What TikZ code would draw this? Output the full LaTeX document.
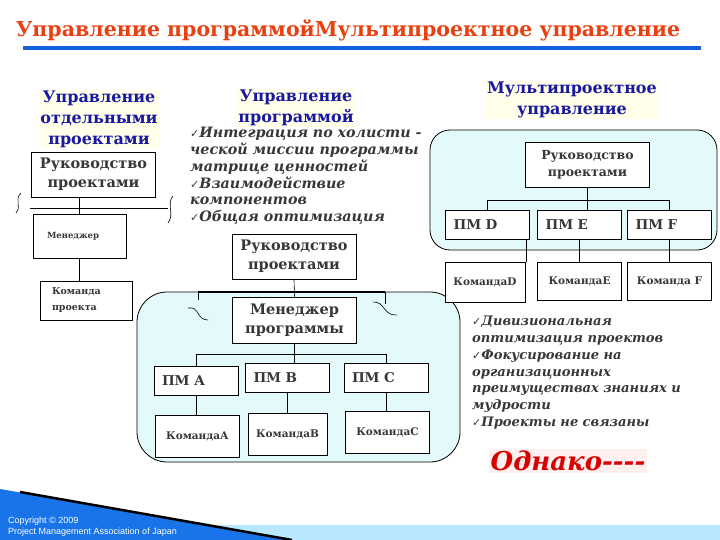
\documentclass[tikz,border=0pt]{standalone}
\usepackage{fontspec}
\setmainfont{DejaVu Serif}
\newfontfamily\checkfont{DejaVu Sans}
\newfontfamily\copyfont{Liberation Sans}
\usetikzlibrary{positioning}

\definecolor{titlered}{RGB}{232,64,16}
\definecolor{headblue}{RGB}{24,24,160}
\definecolor{lineblue}{RGB}{20,96,224}
\definecolor{panel}{RGB}{228,250,250}
\definecolor{boxtext}{RGB}{55,55,55}
\definecolor{swoop}{RGB}{24,116,232}
\definecolor{band}{RGB}{184,232,255}
\definecolor{paleyellow}{RGB}{255,255,234}
\definecolor{palepink}{RGB}{255,240,240}

\newcommand{\chk}{{\checkfont\mdseries\upshape\fontsize{11}{11}\selectfont ✓}}

\tikzset{
  head/.style={font=\fontsize{16}{21}\selectfont\bfseries, text=headblue, align=center, fill=paleyellow, inner sep=1pt},
  box/.style={draw, line width=0.9pt, fill=white, text=boxtext, inner sep=0pt},
  leadbox/.style={box, minimum width=124, minimum height=45, align=center, font=\fontsize{14.5}{19}\selectfont\bfseries},
  pmbox/.style={box, minimum width=84, minimum height=29, text width=68, align=left, font=\fontsize{13.5}{15}\selectfont\bfseries},
  teambox/.style={box, minimum width=84, minimum height=42, align=center, font=\fontsize{10.5}{12}\selectfont\bfseries},
  bullets/.style={anchor=north west, inner sep=0pt, text=boxtext, align=left, font=\fontsize{13.5}{16.8}\selectfont\bfseries\itshape},
  breakline/.style={line width=0.6pt}
}

\begin{document}
\begin{tikzpicture}[x=1pt,y=-1pt]
\useasboundingbox (0,0) rectangle (720,540);

% title
\node[inner sep=0pt, font=\fontsize{20.5}{21}\selectfont\bfseries, text=titlered] (title) at (348,30) {Управление программойМультипроектное управление};
\draw[lineblue, line width=4pt] (23,48) -- (701,48);

% headings
\node[head] (head1) at (99,119) {Управление\\отдельными\\проектами};
\node[head] (head2) at (296,108) {Управление\\программой};
\node[head] (head3) at (572,100) {Мультипроектное\\управление};

% left: single projects
\node[leadbox] (lead1) at (93.5,174.5) {Руководство\\проектами};
\node[box, minimum width=93, minimum height=44, text width=65, align=left, font=\fontsize{8.5}{11}\selectfont\bfseries] (man0) at (79.5,236) {Менеджер};
\node[box, minimum width=92, minimum height=39, text width=68, align=left, font=\fontsize{9.5}{16}\selectfont\bfseries] (team0) at (86,300.5) {Команда\\проекта};

\draw[breakline] (30,208) -- (168,208);
\draw[breakline] (21,193) .. controls (14,200) and (22,206) .. (16,213);
\draw[breakline] (173,196) .. controls (166,204) and (175,214) .. (168,223);
\draw[breakline] (man0.north) -- (man0.north |- lead1.south);
\draw[breakline] (man0.south) -- (man0.south |- team0.north);

% middle: programme
\node[bullets, text width=250, font=\fontsize{14.3}{16.8}\selectfont\bfseries\itshape] (bul1) at (190,127) {\chk Интеграция по холисти -\\ческой миссии программы\\матрице ценностей\\\chk Взаимодействие\\компонентов\\\chk Общая оптимизация};

\draw[fill=panel, line width=0.8pt, rounded corners=30] (137,292) rectangle (460,462);
\coordinate (brL) at (198,292);
\coordinate (brR) at (385,292);
\draw[line width=2pt] (brL) -- (brR);
\draw[breakline] (brL) -- ++(0,8);
\draw[breakline] (brR) -- ++(0,12);
\draw[breakline] (188,308) .. controls (200,306) and (196,320) .. (208,320);
\draw[breakline] (373,302) .. controls (385,301) and (383,316) .. (397,315);

\node[leadbox] (lead2) at (294,256.5) {Руководство\\проектами};
\node[leadbox, minimum height=46] (mgr) at (294.5,320) {Менеджер\\программы};
\draw[breakline] (lead2.south) -- (mgr.north);

\node[pmbox] (pmA) at (196,381) {ПМ А};
\node[pmbox] (pmB) at (287.5,378) {ПМ В};
\node[pmbox] (pmC) at (386,378) {ПМ С};
\node[teambox] (teamA) at (197.5,436.5) {КомандаА};
\node[teambox, minimum width=79] (teamB) at (287.5,434) {КомандаВ};
\node[teambox] (teamC) at (387.5,432) {КомандаС};

\draw[breakline] (pmA.north) -- ++(0,-12) -| (pmC.north);
\draw[breakline] (mgr.south) -- (mgr.south |- pmB.north);
\foreach \p/\t in {pmA/teamA, pmB/teamB, pmC/teamC}
  \draw[breakline] (\p.south) -- (\p.south |- \t.north);

% right: multi-project
\draw[fill=panel, line width=0.8pt, rounded corners=20] (430,130) rectangle (717,250);
\node[leadbox, font=\fontsize{12.5}{17}\selectfont\bfseries] (lead3) at (587.5,165) {Руководство\\проектами};
\node[pmbox] (pmD) at (487.5,225) {ПМ D};
\node[pmbox] (pmE) at (579.5,225) {ПМ E};
\node[pmbox] (pmF) at (669.5,225) {ПМ F};
\node[teambox, minimum width=80, minimum height=40] (teamD) at (485,282) {КомандаD};
\node[teambox, minimum height=38] (teamE) at (579.5,281) {КомандаE};
\node[teambox, minimum height=38] (teamF) at (669.5,281) {Команда F};

\draw[breakline] (pmD.north) -- ++(0,-10) -| (pmF.north);
\draw[breakline] (lead3.south) -- (lead3.south |- pmE.north);
\draw[breakline] (teamD.north east) ++(1,0) -- ++(0,-22);
\draw[breakline] (pmE.south) -- (pmE.south |- teamE.north);
\draw[breakline] (pmF.south) -- (pmF.south |- teamF.north);

\node[bullets, text width=245, font=\fontsize{13.1}{16.8}\selectfont\bfseries\itshape] (bul2) at (472,316) {\chk Дивизиональная\\оптимизация проектов\\\chk Фокусирование на\\организационных\\преимуществах знаниях и\\мудрости\\\chk Проекты не связаны};

\node[fill=palepink, inner sep=2pt, text=red!85!black, font=\fontsize{26}{26}\selectfont\bfseries\itshape] (however) at (568,461) {Однако-{}-{}-{}-};

% footer
\fill[band] (0,525) rectangle (720,540);
\fill[swoop] (0,489) -- (292,540) -- (0,540) -- cycle;
\draw[line width=2.5pt] (20,492) -- (292,540);
\node[anchor=west, inner sep=0pt, text=white, align=left, font=\copyfont\fontsize{9}{11}\selectfont] (copy) at (8,527) {Copyright © 2009\\Project Management Association of Japan};
\end{tikzpicture}
\end{document}
